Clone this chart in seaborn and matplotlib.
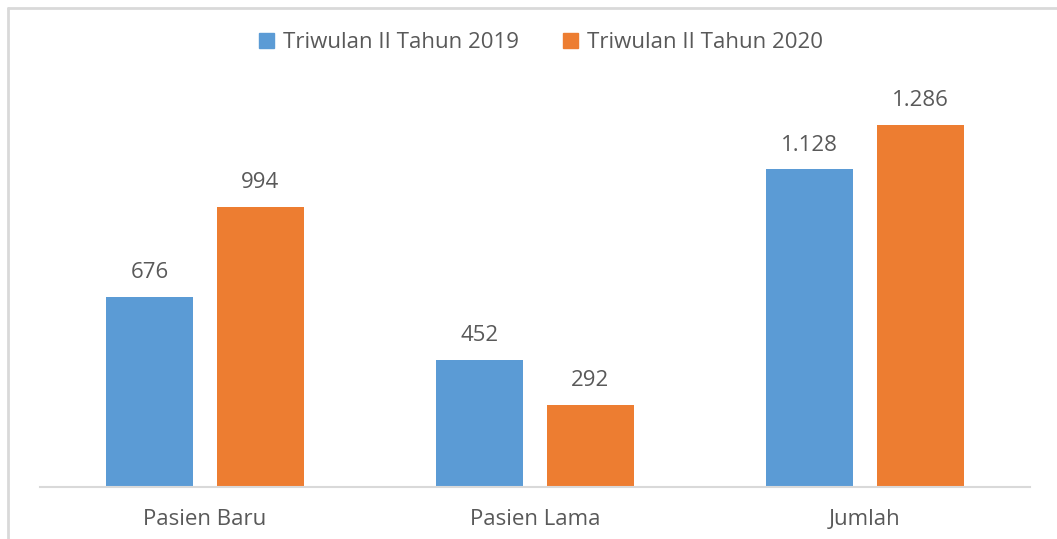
import matplotlib
matplotlib.use("Agg")
import matplotlib.pyplot as plt
import seaborn as sns
import pandas as pd
from matplotlib.patches import Rectangle

categories = ["Pasien Baru", "Pasien Lama", "Jumlah"]
series_names = ["Triwulan II Tahun 2019", "Triwulan II Tahun 2020"]
values_2019 = [676, 452, 1128]
values_2020 = [994, 292, 1286]
colors = ["#5B9BD5", "#ED7D31"]

rows = []
for c, v in zip(categories, values_2019):
    rows.append({"cat": c, "series": series_names[0], "val": v})
for c, v in zip(categories, values_2020):
    rows.append({"cat": c, "series": series_names[1], "val": v})
df = pd.DataFrame(rows)

sns.set_theme(style="white")
plt.rcParams["font.family"] = ["Open Sans", "DejaVu Sans"]
text_color = "#595959"

fig = plt.figure(figsize=(10.57, 5.39), dpi=100)
W, H = 1057, 539
ax = fig.add_axes([40 / W, (H - 487) / H, 990 / W, (487 - 60) / H])

sns.barplot(data=df, x="cat", y="val", hue="series", palette=colors,
            order=categories, hue_order=series_names,
            width=0.672, gap=0.214, ax=ax, saturation=1, legend=False,
            linewidth=0)

ax.set_xlim(-0.5, 2.5)
ax.set_ylim(0, 427 / 0.2815)

for container in ax.containers:
    labels = [f"{int(b.get_height()):,}".replace(",", ".") for b in container]
    ax.bar_label(container, labels=labels, padding=10, fontsize=16, color=text_color)

for s in ["top", "right", "left"]:
    ax.spines[s].set_visible(False)
ax.spines["bottom"].set_color("#D9D9D9")
ax.spines["bottom"].set_linewidth(1.5)
ax.set_yticks([])
ax.set_xlabel("")
ax.set_ylabel("")
ax.tick_params(axis="x", length=0, pad=16, labelsize=16, labelcolor=text_color)

handles = [Rectangle((0, 0), 1, 1, color=c) for c in colors]
fig.legend(handles, series_names, loc="center", bbox_to_anchor=(541 / W, (H - 43) / H),
           ncol=2, frameon=False, fontsize=16, labelcolor=text_color,
           handlelength=0.65, handleheight=0.65, handletextpad=0.4, columnspacing=2.0)

# chart border (top and left)
fig.add_artist(plt.Line2D([8 / W, 1], [(H - 8) / H, (H - 8) / H], color="#D9D9D9", lw=2,
                          transform=fig.transFigure))
fig.add_artist(plt.Line2D([8 / W, 8 / W], [0, (H - 8) / H], color="#D9D9D9", lw=2,
                          transform=fig.transFigure))

fig.savefig("out.png", dpi=100, facecolor="white")
